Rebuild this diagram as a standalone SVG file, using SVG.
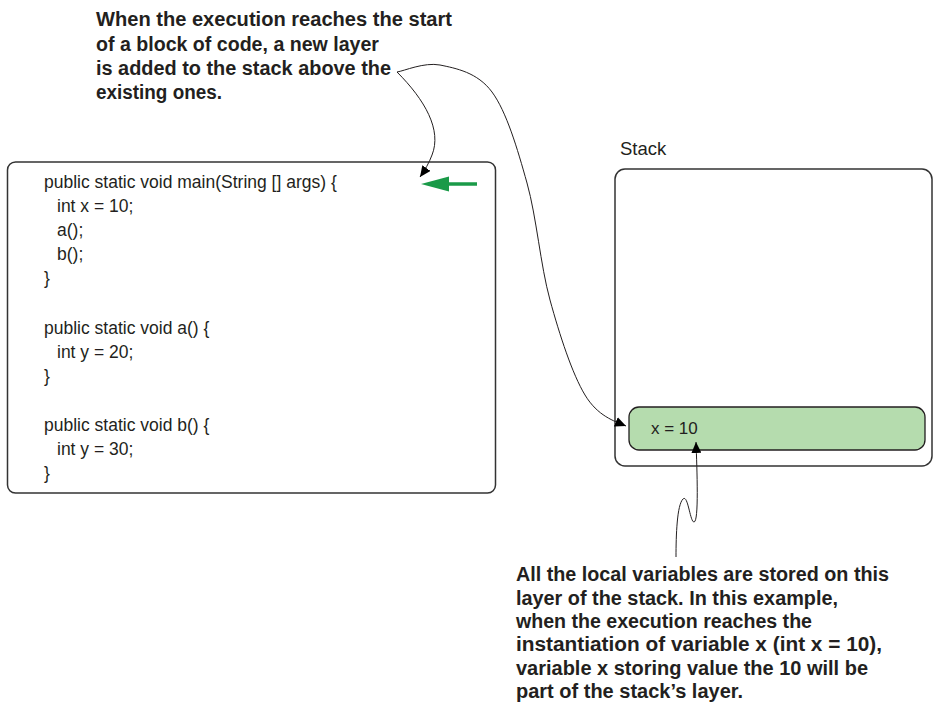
<svg xmlns="http://www.w3.org/2000/svg" width="933" height="711" viewBox="0 0 933 711">
<style>
.note{font-family:"Liberation Sans",Arial,sans-serif;font-weight:bold;font-size:20px;fill:#231f20}
.code{font-family:"Liberation Sans",Arial,sans-serif;font-size:17.5px;fill:#231f20}
.box{fill:#fff;stroke:#333;stroke-width:1.5}
.conn{fill:none;stroke:#231f20;stroke-width:1}
</style>
<defs>
<marker id="ah" markerUnits="userSpaceOnUse" markerWidth="12" markerHeight="10" refX="11" refY="5" orient="auto">
<path d="M0,0 L11,5 L0,10 Z" fill="#000"/>
</marker>
</defs>
<rect width="933" height="711" fill="#fff"/>

<g id="note-top">
<text class="note" x="96" y="26" textLength="356" lengthAdjust="spacingAndGlyphs">When the execution reaches the start</text>
<text class="note" x="96" y="50.5" textLength="283" lengthAdjust="spacingAndGlyphs">of a block of code, a new layer</text>
<text class="note" x="96" y="75" textLength="295" lengthAdjust="spacingAndGlyphs">is added to the stack above the</text>
<text class="note" x="96" y="99" textLength="126" lengthAdjust="spacingAndGlyphs">existing ones.</text>
</g>

<g id="code">
<rect class="box" x="7.5" y="162" width="488" height="331" rx="8"/>
<text class="code" x="44" y="188">public static void main(String [] args) {</text>
<text class="code" x="57" y="212">int x = 10;</text>
<text class="code" x="57" y="236">a();</text>
<text class="code" x="57" y="260">b();</text>
<text class="code" x="44" y="284">}</text>
<text class="code" x="44" y="334">public static void a() {</text>
<text class="code" x="57" y="358">int y = 20;</text>
<text class="code" x="44" y="382">}</text>
<text class="code" x="44" y="431">public static void b() {</text>
<text class="code" x="57" y="455">int y = 30;</text>
<text class="code" x="44" y="479">}</text>
</g>

<g id="pointer">
<line x1="477" y1="184" x2="446" y2="184" stroke="#1a9a48" stroke-width="3.5"/>
<polygon points="421,184 449,176.5 449,191.5" fill="#1a9a48"/>
</g>

<g id="stack">
<text x="620" y="155" style="font-family:'Liberation Sans',Arial,sans-serif;font-size:18.5px;fill:#231f20">Stack</text>
<rect class="box" x="615" y="169" width="317" height="297" rx="10"/>
</g>

<g id="layer">
<rect x="629" y="407" width="296" height="43" rx="10" fill="#b5dcae" stroke="#231f20" stroke-width="1.3"/>
<text x="651" y="434" style="font-family:'Liberation Sans',Arial,sans-serif;font-size:17px;fill:#231f20">x = 10</text>
</g>

<g id="note-bottom">
<text class="note" x="516" y="581" textLength="373" lengthAdjust="spacingAndGlyphs">All the local variables are stored on this</text>
<text class="note" x="516" y="604.5" textLength="322" lengthAdjust="spacingAndGlyphs">layer of the stack. In this example,</text>
<text class="note" x="516" y="628" textLength="296" lengthAdjust="spacingAndGlyphs">when the execution reaches the</text>
<text class="note" x="516" y="651" textLength="366" lengthAdjust="spacingAndGlyphs">instantiation of variable x (int x = 10),</text>
<text class="note" x="516" y="674.5" textLength="352" lengthAdjust="spacingAndGlyphs">variable x storing value the 10 will be</text>
<text class="note" x="516" y="698" textLength="227" lengthAdjust="spacingAndGlyphs">part of the stack’s layer.</text>
</g>

<g id="connectors">
<path class="conn" marker-end="url(#ah)" d="M397,72 C404,71 424,62 440,65 C455.8,68.3 477.5,72.3 492,92 C506.5,111.7 517.3,148.3 527,183 C536.7,217.7 540.3,264.7 550,300 C559.7,335.3 572.3,374 585,395 C597.7,416 614,421 626,426"/>
<path class="conn" marker-end="url(#ah)" d="M397,72 C425,100 442,130 432,155 C429,163 425,170 420,177"/>
<path class="conn" marker-end="url(#ah)" d="M676,557 C676,535 677,505 683,499 C688,494 690,522 694,522 C699,522 697,470 696,442"/>
</g>
</svg>
